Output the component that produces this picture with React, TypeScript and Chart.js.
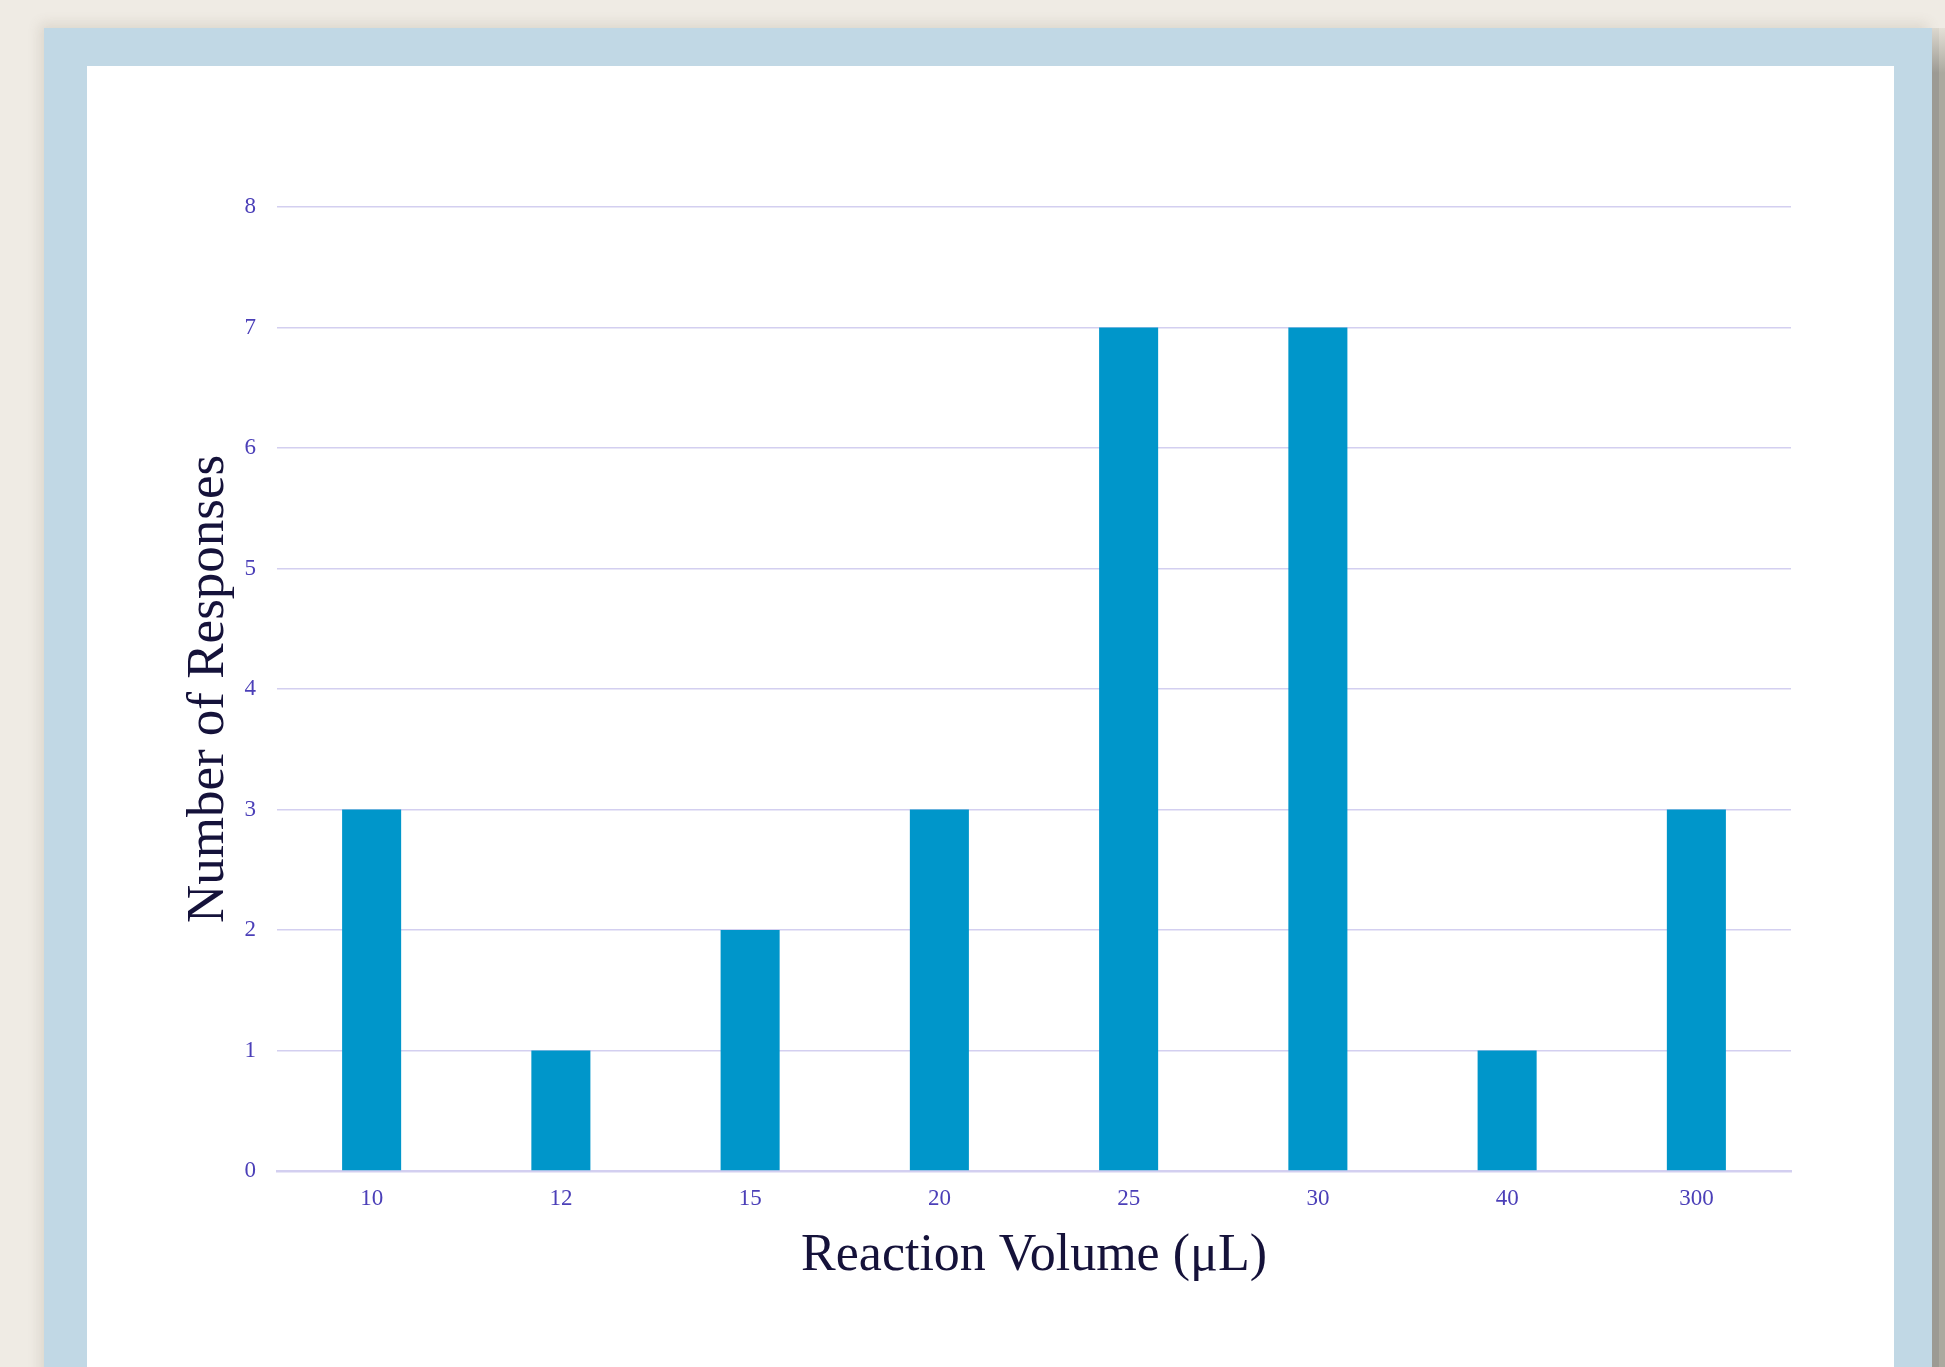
import React, { useEffect, useRef } from "react";
import { Chart, registerables } from "chart.js";

Chart.register(...registerables);

const categories = ["10", "12", "15", "20", "25", "30", "40", "300"];
const responses = [3, 1, 2, 3, 7, 7, 1, 3];
const yTicks = [0, 1, 2, 3, 4, 5, 6, 7, 8];
const xTitle = "Reaction Volume (μL)";
const yTitle = "Number of Responses";

const SERIF = "'Liberation Serif', 'Times New Roman', serif";
const TICK_COLOR = "#4b3fb8";
const TITLE_COLOR = "#15123a";
const GRID_COLOR = "#d3cff0";
const BAR_COLOR = "#0096ca";

export default function App() {
  const ref = useRef<HTMLCanvasElement | null>(null);

  useEffect(() => {
    if (!ref.current) return;
    const chart = new Chart(ref.current, {
      type: "bar",
      data: {
        labels: categories,
        datasets: [
          {
            data: responses,
            backgroundColor: BAR_COLOR,
            borderWidth: 0,
            categoryPercentage: 1,
            barPercentage: 0.312,
          },
        ],
      },
      options: {
        animation: false,
        responsive: false,
        maintainAspectRatio: false,
        devicePixelRatio: 1,
        layout: { padding: { left: 0, top: 141, right: 103, bottom: 0 } },
        plugins: {
          legend: { display: false },
          tooltip: { enabled: false },
          title: { display: false },
        },
        scales: {
          x: {
            grid: { display: false, drawTicks: false },
            border: { display: true, color: GRID_COLOR, width: 2.5 },
            ticks: {
              color: TICK_COLOR,
              font: { family: SERIF, size: 23 },
              padding: 14.5,
            },
            title: {
              display: true,
              text: xTitle,
              color: TITLE_COLOR,
              font: { family: SERIF, size: 52 },
              padding: { top: 0, bottom: 79 },
            },
            afterFit: (scale: any) => {
              scale.height = 196;
            },
          },
          y: {
            min: 0,
            max: 8,
            afterBuildTicks: (scale: any) => {
              scale.ticks = yTicks.map((v) => ({ value: v }));
            },
            grid: { color: GRID_COLOR, lineWidth: 1.5, drawTicks: false },
            border: { display: false },
            ticks: {
              color: TICK_COLOR,
              font: { family: SERIF, size: 23 },
              padding: 21,
            },
            title: {
              display: true,
              text: yTitle,
              color: TITLE_COLOR,
              font: { family: SERIF, size: 53 },
              padding: { top: 90, bottom: 0 },
            },
            afterFit: (scale: any) => {
              scale.width = 190;
            },
          },
        },
      },
    });
    return () => chart.destroy();
  }, []);

  return (
    <div
      style={{
        position: "fixed",
        left: 0,
        top: 0,
        width: 1945,
        height: 1367,
        overflow: "hidden",
        background: "#efebe4",
      }}
    >
      <div
        style={{
          position: "absolute",
          left: 44,
          top: 28,
          width: 1888,
          height: 1400,
          background: "#c1d8e5",
          boxShadow: "-4px -4px 12px rgba(120,105,80,0.16)",
        }}
      />
      <div
        style={{
          position: "absolute",
          left: 1932,
          top: 28,
          width: 7,
          height: 1400,
          background: "linear-gradient(to bottom, #dcd8cf 0px, #9c9a93 45px, #9c9a93 100%)",
        }}
      />
      <div
        style={{
          position: "absolute",
          left: 1939,
          top: 28,
          width: 6,
          height: 1400,
          background: "linear-gradient(to bottom, #e4e0d7 0px, #aba99f 45px, #aba99f 100%)",
        }}
      />
      <div
        style={{
          position: "absolute",
          left: 87,
          top: 66,
          width: 1807,
          height: 1400,
          background: "#ffffff",
        }}
      />
      <canvas
        ref={ref}
        width={1807}
        height={1301}
        style={{ position: "absolute", left: 87, top: 66, width: 1807, height: 1301 }}
      />
    </div>
  );
}
